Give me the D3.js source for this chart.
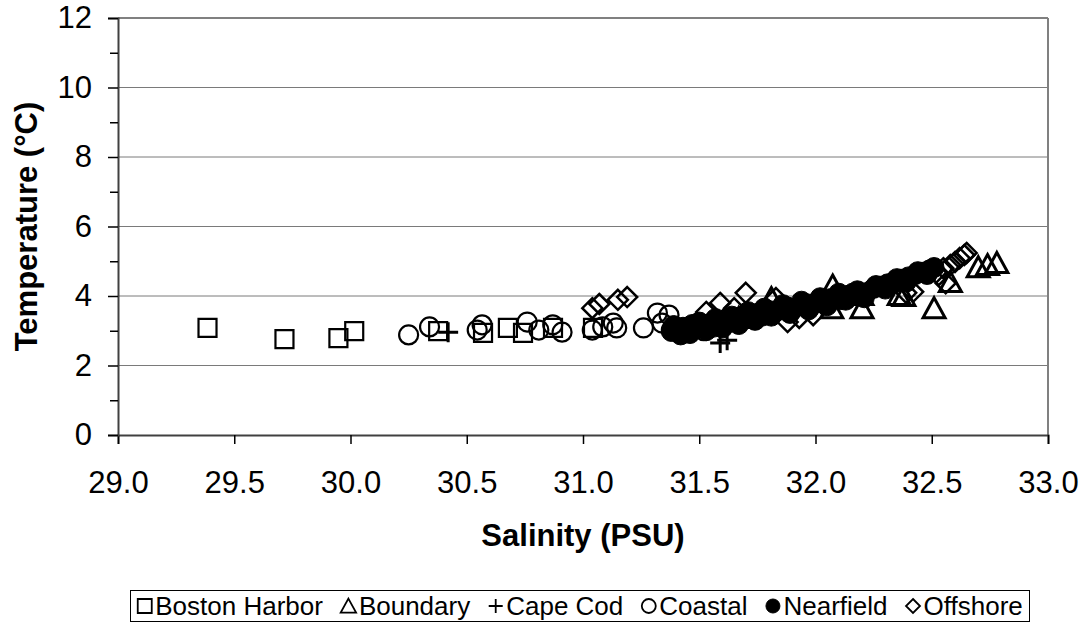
<!DOCTYPE html>
<html><head><meta charset="utf-8">
<script src="https://cdn.jsdelivr.net/npm/d3@7"></script>
<style>body{margin:0;background:#fff}svg{display:block;font-family:Arial,"Liberation Sans",sans-serif}</style>
</head><body><svg id="c" width="1084" height="623"></svg>
<script>
// ---- data (salinity PSU, temperature °C) ----
const seriesNames = ["Boston Harbor","Boundary","Cape Cod","Coastal","Nearfield","Offshore"];
const bostonHarborSal = [29.385,29.716,29.948,30.016,30.377,30.570,30.677,30.742,30.871,31.043];
const bostonHarborTemp = [3.08,2.76,2.79,2.99,2.99,2.94,3.08,2.94,3.08,3.08];
const boundarySal = [31.67,31.81,32.07,32.074,32.20,32.20,32.36,32.38,32.51,32.58,32.70,32.74,32.78];
const boundaryTemp = [3.37,3.94,3.65,4.30,3.65,4.03,4.03,4.00,3.65,4.40,4.83,4.89,4.95];
const capeCodSal = [30.42,31.59,31.62];
const capeCodTemp = [2.96,2.65,2.73];
const coastalSal = [30.25,30.34,30.545,30.566,30.76,30.81,30.87,30.91,31.04,31.085,31.13,31.145,31.26,31.32,31.37,31.34,31.38,31.45,31.52];
const coastalTemp = [2.88,3.11,3.02,3.17,3.25,3.02,3.17,2.96,3.02,3.11,3.22,3.08,3.08,3.51,3.45,3.22,3.02,3.10,3.00];
const nearfieldSal = [31.38,31.40,31.41,31.43,31.45,31.47,31.49,31.52,31.55,31.56,31.58,31.61,31.63,31.65,31.68,31.70,31.72,31.75,31.77,31.80,31.83,31.85,31.88,31.90,31.93,31.96,31.98,32.01,32.04,32.06,32.09,32.11,32.14,32.16,32.19,32.22,32.25,32.28,32.31,32.34,32.37,32.40,32.43,32.46,32.49,32.51,
  31.39,31.42,31.46,31.50,31.53,31.57,31.60,31.64,31.67,31.71,31.74,31.78,31.81,31.86,31.89,31.94,31.97,32.02,32.05,32.10,32.13,32.18,32.21,32.26,32.30,32.35,32.39,32.44,32.48];
const nearfieldTemp = [2.98,3.05,2.95,3.10,3.02,3.18,3.08,3.15,3.22,3.10,3.28,3.20,3.32,3.25,3.40,3.35,3.45,3.50,3.42,3.58,3.55,3.62,3.68,3.60,3.72,3.78,3.70,3.85,3.80,3.92,3.98,3.90,4.02,4.08,4.00,4.10,4.22,4.28,4.35,4.42,4.48,4.55,4.62,4.68,4.75,4.82,
  3.15,2.88,2.92,3.25,3.00,3.35,3.08,3.42,3.18,3.55,3.30,3.65,3.42,3.75,3.50,3.85,3.60,3.95,3.72,4.08,3.88,4.15,3.95,4.30,4.20,4.50,4.40,4.70,4.62];
const offshoreSal = [31.04,31.07,31.15,31.19,31.53,31.59,31.65,31.70,31.83,31.88,31.93,31.99,32.39,32.42,32.53,32.55,32.56,32.58,32.60,32.62,32.64,32.65];
const offshoreTemp = [3.65,3.77,3.89,3.97,3.54,3.80,3.65,4.09,3.94,3.25,3.37,3.45,4.09,4.12,4.60,4.80,4.37,4.89,4.98,5.09,5.18,5.24];
const xTicks = [29.0,29.5,30.0,30.5,31.0,31.5,32.0,32.5,33.0];
const yTicks = [0,2,4,6,8,10,12];
const yMinorTicks = [1,3,5,7,9,11];

const svg = d3.select("#c");
const x = d3.scaleLinear().domain([29,33]).range([118,1048]);
const y = d3.scaleLinear().domain([0,12]).range([435,18]);

// gridlines
svg.append("g").selectAll("line").data(yTicks.filter(d=>d>0)).join("line")
  .attr("x1",x(29)).attr("x2",x(33)).attr("y1",d=>y(d)).attr("y2",d=>y(d))
  .attr("stroke","#7a7a7a").attr("stroke-width",1);
svg.append("line").attr("x1",x(29)).attr("x2",x(33)).attr("y1",y(12)).attr("y2",y(12)).attr("stroke","#808080").attr("stroke-width",2);
svg.append("line").attr("x1",x(33)).attr("x2",x(33)).attr("y1",y(12)).attr("y2",y(0)).attr("stroke","#808080").attr("stroke-width",2);

// axes
const xAxis = d3.axisBottom(x).tickValues(xTicks).tickFormat(d3.format(".1f")).tickSize(9).tickPadding(27);
const gx = svg.append("g").attr("transform",`translate(0,${y(0)})`).call(xAxis);
gx.select(".domain").attr("stroke","#404040").attr("stroke-width",2);
gx.selectAll(".tick line").attr("stroke","#000").attr("stroke-width",1.5);
gx.selectAll("text").attr("font-size",31).attr("fill","#000").attr("font-family","Arial, 'Liberation Sans', sans-serif");

const yAxis = d3.axisLeft(y).tickValues(yTicks).tickFormat(d3.format("d")).tickSize(10).tickPadding(16);
const gy = svg.append("g").attr("transform",`translate(${x(29)},0)`).call(yAxis);
gy.select(".domain").attr("stroke","#404040").attr("stroke-width",2);
gy.selectAll(".tick line").attr("stroke","#000").attr("stroke-width",1.5);
gy.selectAll("text").attr("font-size",31).attr("fill","#000").attr("font-family","Arial, 'Liberation Sans', sans-serif");
const yMinor = d3.axisLeft(y).tickValues(yMinorTicks).tickSize(8).tickFormat("");
const gym = svg.append("g").attr("transform",`translate(${x(29)},0)`).call(yMinor);
gym.select(".domain").remove();
gym.selectAll(".tick line").attr("stroke","#000").attr("stroke-width",1.5);

// axis titles
svg.append("text").attr("x",(x(29)+x(33))/2).attr("y",546).attr("text-anchor","middle")
  .attr("font-size",31).attr("font-weight","bold").text("Salinity (PSU)");
svg.append("text").attr("transform",`translate(37,${(y(0)+y(12))/2}) rotate(-90)`).attr("text-anchor","middle")
  .attr("font-size",31).attr("font-weight","bold").text("Temperature (°C)");

// marker paths
const markers = {
  "Boston Harbor": s => `M${-s},${-s}H${s}V${s}H${-s}Z`,
  "Boundary": s => `M0,${-s*1.05}L${s*1.1},${s*0.95}H${-s*1.1}Z`,
  "Cape Cod": s => `M${-s},0H${s}M0,${-s}V${s}`,
  "Coastal": s => `M${s},0A${s},${s} 0 1,1 ${-s},0A${s},${s} 0 1,1 ${s},0Z`,
  "Nearfield": s => `M${s},0A${s},${s} 0 1,1 ${-s},0A${s},${s} 0 1,1 ${s},0Z`,
  "Offshore": s => `M0,${-s}L${s},0L0,${s}L${-s},0Z`
};
const fills = {"Nearfield":"#000"};
const strokeW = {"Boston Harbor":2.2,"Boundary":3,"Cape Cod":3,"Coastal":2.2,"Nearfield":1,"Offshore":2.5};
const plotData = [
  ["Boston Harbor",bostonHarborSal,bostonHarborTemp,9],
  ["Boundary",boundarySal,boundaryTemp,10],
  ["Cape Cod",capeCodSal,capeCodTemp,10],
  ["Coastal",coastalSal,coastalTemp,9.5],
  ["Nearfield",nearfieldSal,nearfieldTemp,10],
  ["Offshore",offshoreSal,offshoreTemp,10]
];
plotData.forEach(([name,xs,ys,s])=>{
  const pts = xs.map((v,i)=>[v,ys[i]]);
  svg.append("g").selectAll("path").data(pts).join("path")
    .attr("transform",d=>`translate(${x(d[0])},${y(d[1])})`)
    .attr("d",markers[name](s))
    .attr("fill",fills[name]||"none").attr("stroke","#000").attr("stroke-width",strokeW[name]);
});

// legend
const lg = svg.append("g");
lg.append("rect").attr("x",130.5).attr("y",590.5).attr("width",899).attr("height",31).attr("fill","#fff").attr("stroke","#000").attr("stroke-width",1);
const items = lg.append("g");
let cx = 0;
const gapAfter = 18;
seriesNames.forEach((n,i)=>{
  const it = items.append("g").attr("transform",`translate(${cx},0)`);
  it.append("path").attr("transform",`translate(7.5,606)`).attr("d",markers[n](7))
    .attr("fill",fills[n]||"none").attr("stroke","#000").attr("stroke-width",n==="Nearfield"?1:1.8);
  const t = it.append("text").attr("x",18).attr("y",615).attr("font-size",26).text(n);
  cx += 18 + t.node().getComputedTextLength() + gapAfter;
});
const totalW = cx - gapAfter;
items.attr("transform",`translate(${580 - totalW/2},0)`);
</script></body></html>
